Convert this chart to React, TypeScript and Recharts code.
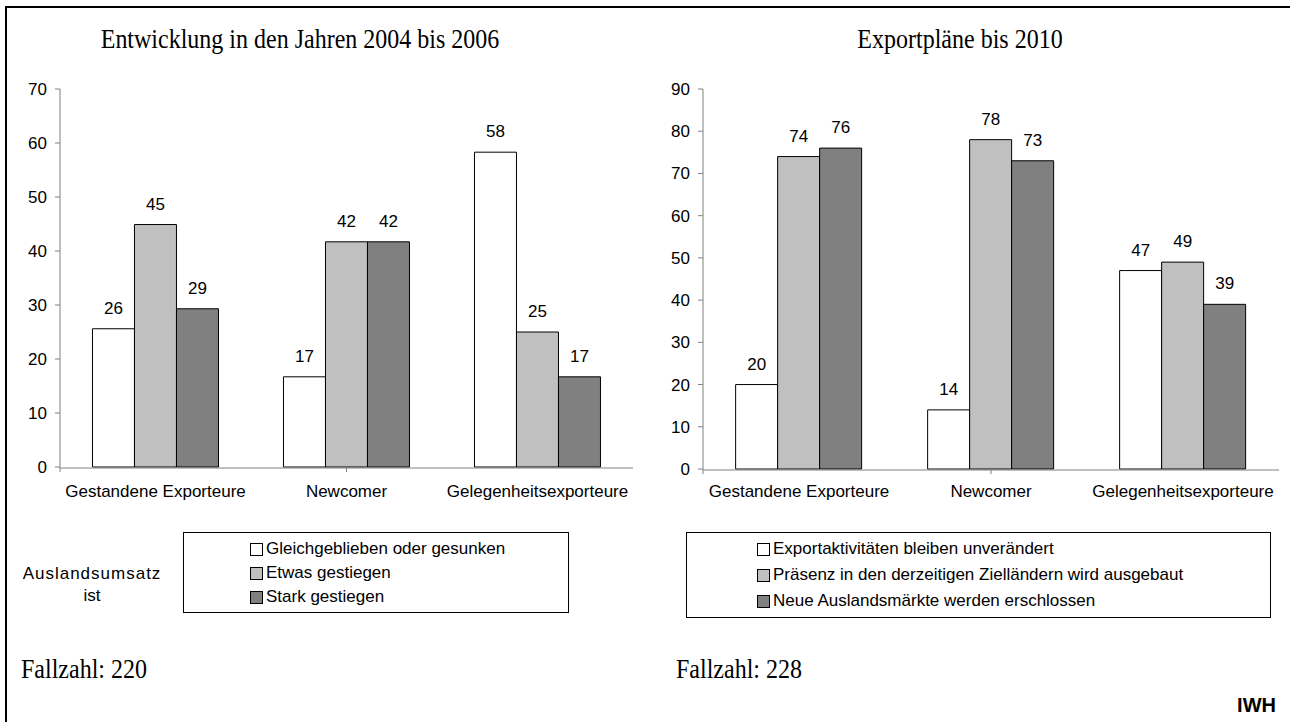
import React from 'react';
import { BarChart, Bar, XAxis, YAxis, Legend, LabelList } from 'recharts';

// categories shared by both panels
const categories = ['Gestandene Exporteure', 'Newcomer', 'Gelegenheitsexporteure'];

// left panel: Entwicklung 2004-2006 (Anteile in %)
const leftSeries = ['Gleichgeblieben oder gesunken', 'Etwas gestiegen', 'Stark gestiegen'];
const leftSame = [25.6, 16.7, 58.3];
const leftSome = [44.9, 41.7, 25.0];
const leftStrong = [29.3, 41.7, 16.7];
const leftTicks = [0, 10, 20, 30, 40, 50, 60, 70];

// right panel: Exportpläne bis 2010
const rightSeries = [
  'Exportaktivitäten bleiben unverändert',
  'Präsenz in den derzeitigen Zielländern wird ausgebaut',
  'Neue Auslandsmärkte werden erschlossen',
];
const rightSame = [20, 14, 47];
const rightPresence = [74, 78, 49];
const rightNew = [76, 73, 39];
const rightTicks = [0, 10, 20, 30, 40, 50, 60, 70, 80, 90];

const boundaryTicks = [0, 1, 2, 3];

const COLORS = ['#FFFFFF', '#C0C0C0', '#808080'];
const AXIS = '#808080';
const SANS = '"Liberation Sans", Arial, sans-serif';
const SERIF = '"Liberation Serif", "Times New Roman", serif';

const leftData = categories.map((name, i) => ({
  name,
  a: leftSame[i],
  b: leftSome[i],
  c: leftStrong[i],
}));

const rightData = categories.map((name, i) => ({
  name,
  a: rightSame[i],
  b: rightPresence[i],
  c: rightNew[i],
}));

function LegendBox({ names, padLeft, rowTops }: { names: string[]; padLeft: number; rowTops: number[] }) {
  return (
    <div style={{ position: 'relative', width: '100%', height: '100%', border: '1px solid #000', boxSizing: 'border-box', fontFamily: SANS }}>
      {names.map((n, i) => (
        <div
          key={n}
          style={{
            position: 'absolute',
            left: padLeft,
            top: rowTops[i] - 11,
            height: 22,
            display: 'flex',
            alignItems: 'center',
            whiteSpace: 'nowrap',
            fontSize: 17,
            color: '#000',
          }}
        >
          <span
            style={{
              display: 'inline-block',
              width: 11,
              height: 11,
              border: '1px solid #000',
              background: COLORS[i],
              marginRight: 3,
            }}
          />
          {n}
        </div>
      ))}
    </div>
  );
}

function Panel({
  data,
  names,
  ticks,
  width,
  margin,
  yWidth,
  tickMargin,
  legendStyle,
  legendPad,
  legendRows,
}: any) {
  const max = ticks[ticks.length - 1];
  return (
    <BarChart
      width={width}
      height={722}
      data={data}
      margin={margin}
      barCategoryGap="17%"
      barGap={0}
      style={{ fontFamily: SANS }}
    >
      <XAxis
        xAxisId="cat"
        dataKey="name"
        interval={0}
        axisLine={{ stroke: AXIS }}
        tickLine={false}
        tickSize={0}
        tickMargin={tickMargin}
        tick={{ fill: '#000', fontSize: 17 }}
        height={1}
      />
      <XAxis
        xAxisId="bnd"
        type="number"
        domain={[0, 3]}
        ticks={boundaryTicks}
        axisLine={false}
        tickLine={{ stroke: AXIS }}
        tickSize={5}
        tick={() => <g />}
        height={1}
      />
      <YAxis
        domain={[0, max]}
        ticks={ticks}
        width={yWidth}
        axisLine={{ stroke: AXIS }}
        tickLine={{ stroke: AXIS }}
        tickSize={5}
        tickMargin={8}
        tick={{ fill: '#000', fontSize: 17 }}
      />
      <Legend
        layout="horizontal"
        verticalAlign="middle"
        align="center"
        wrapperStyle={legendStyle}
        content={() => <LegendBox names={names} padLeft={legendPad} rowTops={legendRows} />}
      />
      {['a', 'b', 'c'].map((k, i) => (
        <Bar
          key={k}
          xAxisId="cat"
          dataKey={k}
          name={names[i]}
          fill={COLORS[i]}
          stroke="#000"
          strokeWidth={1}
          isAnimationActive={false}
        >
          <LabelList
            dataKey={k}
            position="top"
            offset={15}
            fill="#000"
            fontSize={17}
            formatter={(v: any) => Math.round(Number(v))}
          />
        </Bar>
      ))}
    </BarChart>
  );
}

function SerifText({ x, y, anchor, children }: any) {
  // source text is slightly taller than wide
  return (
    <text
      transform={`translate(${x},${y}) scale(1,1.15)`}
      textAnchor={anchor}
      fontFamily={SERIF}
      fontSize={24}
    >
      {children}
    </text>
  );
}

export default function App() {
  return (
    <div style={{ position: 'absolute', left: 0, top: 0, width: 1290, height: 722, background: '#fff', overflow: 'hidden' }}>
      <div
        style={{
          position: 'absolute',
          left: 5,
          top: 6,
          width: 1283,
          height: 714,
          borderTop: '2px solid #000',
          borderLeft: '2px solid #000',
        }}
      />
      <div style={{ position: 'absolute', left: 0, top: 0 }}>
        <Panel
          data={leftData}
          names={leftSeries}
          ticks={leftTicks}
          width={640}
          margin={{ top: 89, right: 7, bottom: 253, left: 0 }}
          yWidth={60}
          tickMargin={17}
          legendStyle={{ left: 183, top: 532, width: 386, height: 81 }}
          legendPad={66}
          legendRows={[16, 40, 64]}
        />
      </div>
      <div style={{ position: 'absolute', left: 640, top: 0 }}>
        <Panel
          data={rightData}
          names={rightSeries}
          ticks={rightTicks}
          width={650}
          margin={{ top: 89, right: 11, bottom: 251, left: 0 }}
          yWidth={63}
          tickMargin={15}
          legendStyle={{ left: 46, top: 532, width: 585, height: 86 }}
          legendPad={70}
          legendRows={[16, 42, 68]}
        />
      </div>
      <svg width={1290} height={722} style={{ position: 'absolute', left: 0, top: 0, pointerEvents: 'none' }}>
        <SerifText x={300} y={48} anchor="middle">
          Entwicklung in den Jahren 2004 bis 2006
        </SerifText>
        <SerifText x={960} y={48} anchor="middle">
          Exportpläne bis 2010
        </SerifText>
        <text x={92} y={579} textAnchor="middle" fontFamily={SANS} fontSize={17} letterSpacing={1}>
          Auslandsumsatz
        </text>
        <text x={92} y={601} textAnchor="middle" fontFamily={SANS} fontSize={17}>
          ist
        </text>
        <SerifText x={21} y={678} anchor="start">
          Fallzahl: 220
        </SerifText>
        <SerifText x={676} y={678} anchor="start">
          Fallzahl: 228
        </SerifText>
        <text x={1276} y={712} textAnchor="end" fontFamily={SANS} fontSize={20} fontWeight="bold">
          IWH
        </text>
      </svg>
    </div>
  );
}
